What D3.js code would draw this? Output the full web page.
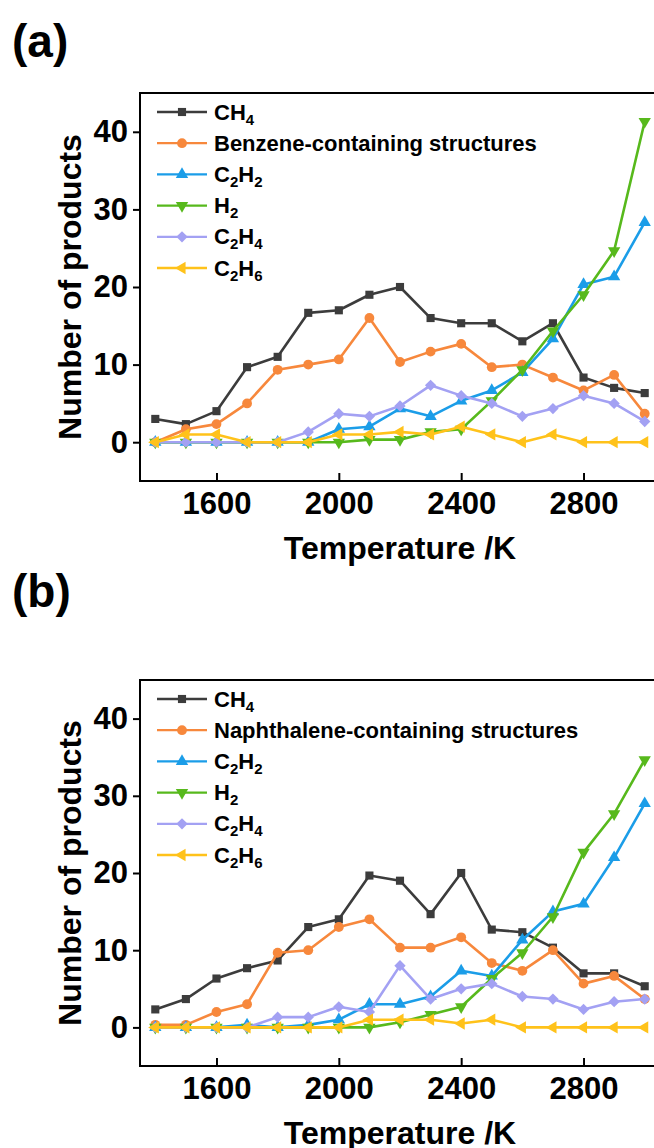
<!DOCTYPE html>
<html lang="en">
  <head>
    <meta charset="UTF-8" />
    <title>Products vs temperature</title>
    <style>
      body { margin: 0; background: #fff; }
      svg text { font-family: "Liberation Sans", Arial, sans-serif; font-weight: bold; fill: #000; }
    </style>
  </head>
  <body>
    <svg id="svg" width="654" height="1148"></svg>

    <script src="https://d3js.org/d3.v7.min.js"></script>
    <script>
      // temperatures (K)
      const temps = [1400, 1500, 1600, 1700, 1800, 1900, 2000, 2100, 2200, 2300, 2400, 2500, 2600, 2700, 2800, 2900, 3000];
      const xTicks = [1600, 2000, 2400, 2800];
      const yTicks = [0, 10, 20, 30, 40];

      // panel (a)
      const aCH4 = [3.0, 2.33, 4.0, 9.67, 11.0, 16.67, 17.0, 19.0, 20.0, 16.0, 15.33, 15.33, 13.0, 15.33, 8.33, 7.0, 6.33];
      const aBenzene = [0, 1.67, 2.33, 5.0, 9.33, 10.0, 10.67, 16.0, 10.33, 11.67, 12.67, 9.67, 10.0, 8.33, 6.67, 8.67, 3.67];
      const aC2H2 = [0, 0, 0, 0, 0, 0, 1.67, 2.0, 4.33, 3.33, 5.33, 6.67, 9.0, 13.33, 20.33, 21.33, 28.33];
      const aH2 = [0, 0, 0, 0, 0, 0, 0, 0.33, 0.33, 1.33, 1.67, 5.33, 9.33, 14.33, 19.0, 24.67, 41.33];
      const aC2H4 = [0, 0, 0, 0, 0, 1.33, 3.67, 3.33, 4.67, 7.33, 6.0, 5.0, 3.33, 4.33, 6.0, 5.0, 2.67];
      const aC2H6 = [0, 1.0, 1.0, 0, 0, 0, 1.0, 1.0, 1.33, 1.0, 2.0, 1.0, 0, 1.0, 0, 0, 0];

      // panel (b)
      const bCH4 = [2.33, 3.67, 6.33, 7.67, 8.67, 13.0, 14.0, 19.67, 19.0, 14.67, 20.0, 12.67, 12.33, 10.33, 7.0, 7.0, 5.33];
      const bNaphthalene = [0.33, 0.33, 2.0, 3.0, 9.67, 10.0, 13.0, 14.0, 10.33, 10.33, 11.67, 8.33, 7.33, 10.0, 5.67, 6.67, 3.67];
      const bC2H2 = [0, 0, 0, 0.33, 0, 0.33, 1.0, 3.0, 3.0, 4.0, 7.33, 6.67, 11.33, 15.0, 16.0, 22.0, 29.0];
      const bH2 = [0, 0, 0, 0, 0, 0, 0, 0, 0.67, 1.67, 2.67, 6.33, 9.67, 14.33, 22.67, 27.67, 34.67];
      const bC2H4 = [0, 0, 0, 0, 1.33, 1.33, 2.67, 2.0, 8.0, 3.67, 5.0, 5.67, 4.0, 3.67, 2.33, 3.33, 3.67];
      const bC2H6 = [0, 0, 0, 0, 0, 0, 0, 1.0, 1.0, 1.0, 0.5, 1.0, 0, 0, 0, 0, 0];

      const colors = ["#3c3c3c", "#f7883c", "#1b9de8", "#57b91c", "#a3a1f3", "#ffc21a"];
      const shapes = ["square", "circle", "up", "down", "diamond", "left"];

      const svg = d3.select("#svg");

      function marker(g, shape, color) {
        let sym, rot = 0, size;
        if (shape === "square") { sym = d3.symbolSquare; size = 66; }
        else if (shape === "circle") { sym = d3.symbolCircle; size = 76; }
        else if (shape === "diamond") { sym = d3.symbolSquare; size = 64; rot = 45; }
        else { sym = d3.symbolTriangle; size = 66; rot = shape === "down" ? 180 : shape === "left" ? -90 : 0; }
        return g.append("path")
          .attr("d", d3.symbol(sym, size)())
          .attr("fill", color)
          .attr("transform", (d) => `translate(${d[0]},${d[1]}) rotate(${rot})`);
      }

      // label like "C_2H_6" -> tspans with subscripts
      function richText(t, label) {
        let shift = 0;
        label.split(/_(\d)/).forEach((part, i) => {
          if (!part) return;
          if (i % 2 === 1) {
            t.append("tspan").attr("font-size", 15).attr("dy", 5).text(part);
            shift = -5;
          } else {
            t.append("tspan").attr("font-size", 22).attr("dy", shift).text(part);
            shift = 0;
          }
        });
      }

      function drawPanel(p) {
        const x = d3.scaleLinear().domain([1350, 3050]).range([140, 660]);
        const y = d3.scaleLinear().domain([-5, 45]).range([p.bottom, p.top]);
        const g = svg.append("g");

        g.append("text").attr("x", 12).attr("y", p.letterY).attr("font-size", 46).text(p.letter);

        // series
        p.series.forEach((s, k) => {
          const pts = temps.map((t, i) => [x(t), y(s[i])]);
          g.append("path")
            .attr("d", d3.line()(pts))
            .attr("fill", "none")
            .attr("stroke", colors[k])
            .attr("stroke-width", 2.6)
            .attr("stroke-linejoin", "round");
          const m = g.append("g").selectAll("g").data(pts).join("g");
          m.each(function (d) { marker(d3.select(this).datum(d), shapes[k], colors[k]); });
        });

        // frame
        g.append("rect")
          .attr("x", 140).attr("y", p.top)
          .attr("width", 520).attr("height", p.bottom - p.top)
          .attr("fill", "none").attr("stroke", "#000").attr("stroke-width", 2);

        const xa = g.append("g").attr("transform", `translate(0,${p.bottom})`)
          .call(d3.axisBottom(x).tickValues(xTicks).tickSize(-8).tickSizeOuter(0).tickPadding(11).tickFormat(d3.format("d")));
        xa.select(".domain").remove();
        xa.selectAll("line").attr("stroke-width", 2);
        xa.selectAll("text").attr("font-size", 31).attr("font-family", null);

        const ya = g.append("g").attr("transform", "translate(140,0)")
          .call(d3.axisLeft(y).tickValues(yTicks).tickSize(7).tickPadding(5));
        ya.select(".domain").remove();
        ya.selectAll("line").attr("stroke-width", 2);
        ya.selectAll("text").attr("font-size", 31).attr("font-family", null);

        g.append("text")
          .attr("x", 400).attr("y", p.bottom + 78)
          .attr("text-anchor", "middle").attr("font-size", 32)
          .text("Temperature /K");
        g.append("text")
          .attr("transform", `translate(81,${(p.top + p.bottom) / 2}) rotate(-90)`)
          .attr("text-anchor", "middle").attr("font-size", 32)
          .text("Number of products");

        // legend
        p.names.forEach((name, k) => {
          const ly = p.top + 19 + k * 31.2;
          g.append("line")
            .attr("x1", 157).attr("x2", 207).attr("y1", ly).attr("y2", ly)
            .attr("stroke", colors[k]).attr("stroke-width", 2.3);
          marker(g.append("g").datum([182, ly]), shapes[k], colors[k]);
          const t = g.append("text").attr("x", 214).attr("y", ly + 7.5).attr("font-size", 22);
          richText(t, name);
        });
      }

      drawPanel({
        letter: "(a)", letterY: 57, top: 93, bottom: 481,
        series: [aCH4, aBenzene, aC2H2, aH2, aC2H4, aC2H6],
        names: ["CH_4", "Benzene-containing structures", "C_2H_2", "H_2", "C_2H_4", "C_2H_6"],
      });
      drawPanel({
        letter: "(b)", letterY: 607, top: 680, bottom: 1066,
        series: [bCH4, bNaphthalene, bC2H2, bH2, bC2H4, bC2H6],
        names: ["CH_4", "Naphthalene-containing structures", "C_2H_2", "H_2", "C_2H_4", "C_2H_6"],
      });
    </script>
  </body>
</html>
